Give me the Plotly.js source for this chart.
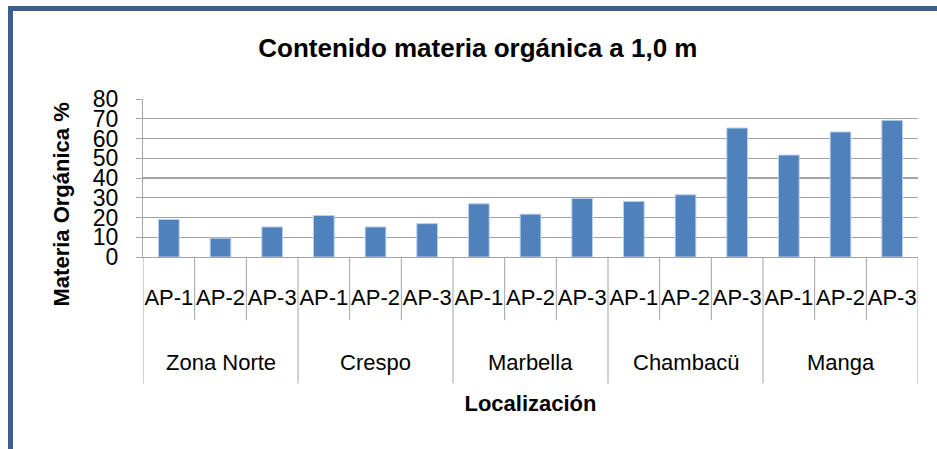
<!DOCTYPE html>
<html>
<head>
<meta charset="utf-8">
<script src="https://cdn.plot.ly/plotly-3.0.1.min.js"></script>
<style>
  html, body { margin: 0; padding: 0; background: #ffffff; }
  #wrap { position: relative; width: 937px; height: 449px; overflow: hidden; }
  #frame { position: absolute; left: 8px; top: 6px; width: 940px; height: 460px;
           border-left: 5px solid #3A5F8E; border-top: 5px solid #3A5F8E; box-sizing: border-box; }
  #chart { position: absolute; left: 0; top: 0; width: 937px; height: 449px; }
</style>
</head>
<body>
<div id="wrap">
  <div id="frame"></div>
  <div id="chart"></div>
</div>
<script>
// ---- data ----
const groups = ["Zona Norte", "Crespo", "Marbella", "Chambacü", "Manga"];
const points = ["AP-1", "AP-2", "AP-3"];
const zonaNorte = [19.0, 9.5, 15.2];
const crespo    = [21.0, 15.2, 16.9];
const marbella  = [26.9, 21.7, 29.6];
const chambacu  = [28.1, 31.5, 65.3];
const manga     = [51.6, 63.3, 69.2];
const yTicks = [0, 10, 20, 30, 40, 50, 60, 70, 80];

// ---- build positions from data ----
const seriesByGroup = [zonaNorte, crespo, marbella, chambacu, manga];
const xs = [], ys = [], tickText = [];
seriesByGroup.forEach((vals, g) => {
  vals.forEach((v, i) => {
    xs.push(g * points.length + i);
    ys.push(v);
    tickText.push(points[i]);
  });
});
const n = xs.length;

const gridColor = "#A3A3A3";
const shapes = [];
const smallDrop = -0.40, bigDrop = -0.80;
for (let k = 0; k <= n; k++) {
  const isGroup = (k % points.length === 0);
  shapes.push({
    type: "line", xref: "x", yref: "paper",
    x0: k - 0.5, x1: k - 0.5, y0: 0, y1: isGroup ? bigDrop : smallDrop,
    line: { color: gridColor, width: 1 }
  });
}

const annotations = groups.map((gname, g) => ({
  xref: "x", yref: "paper",
  x: g * points.length + (points.length - 1) / 2, y: -0.665,
  text: gname, showarrow: false, yanchor: "middle", xanchor: "center",
  font: { family: "Liberation Sans, Arial, sans-serif", size: 22, color: "#000000" }
}));
annotations.push({
  xref: "paper", yref: "paper", x: -0.105, y: 0.33,
  text: "<b>Materia Orgánica %</b>", textangle: -90, showarrow: false,
  xanchor: "center", yanchor: "middle",
  font: { family: "Liberation Sans, Arial, sans-serif", size: 22, color: "#000000" }
});

const trace = {
  type: "bar",
  x: xs, y: ys,
  width: 0.4,
  marker: { color: "#4F81BD", line: { color: "#B9CDE5", width: 1 } },
  hoverinfo: "y"
};

const layout = {
  width: 937, height: 449,
  paper_bgcolor: "rgba(0,0,0,0)",
  plot_bgcolor: "rgba(0,0,0,0)",
  margin: { l: 143, r: 19, t: 99, b: 192, pad: 0 },
  showlegend: false,
  title: {
    text: "<b>Contenido materia orgánica a 1,0 m</b>",
    x: 0.51, xanchor: "center", y: 0.893, yanchor: "middle",
    font: { family: "Liberation Sans, Arial, sans-serif", size: 26, color: "#000000" }
  },
  xaxis: {
    range: [-0.5, n - 0.5],
    tickmode: "array", tickvals: xs, ticktext: tickText,
    ticks: "", showgrid: false, zeroline: false,
    showline: true, linecolor: gridColor, linewidth: 1,
    ticklabelstandoff: 21,
    tickfont: { family: "Liberation Sans, Arial, sans-serif", size: 22, color: "#000000" },
    title: {
      text: "<b>Localización</b>", standoff: 86,
      font: { family: "Liberation Sans, Arial, sans-serif", size: 22, color: "#000000" }
    },
    fixedrange: true
  },
  yaxis: {
    range: [0, 80],
    tickmode: "array", tickvals: yTicks, ticktext: yTicks.map(String),
    ticks: "outside", ticklen: 6, tickcolor: gridColor, tickwidth: 1,
    showgrid: true, gridcolor: gridColor, gridwidth: 1.3,
    zeroline: false, showline: true, linecolor: gridColor, linewidth: 1,
    ticklabelstandoff: 13,
    tickfont: { family: "Liberation Sans, Arial, sans-serif", size: 23, color: "#000000" },
    fixedrange: true
  },
  shapes: shapes,
  annotations: annotations,
  bargap: 0.6
};

Plotly.newPlot("chart", [trace], layout, { displayModeBar: false, staticPlot: true });
</script>
</body>
</html>
